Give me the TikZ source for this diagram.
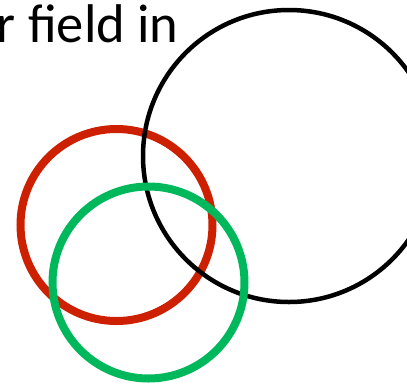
\documentclass[tikz,border=0pt]{standalone}
\usepackage{fontspec}
\setmainfont{Carlito}
\definecolor{ringred}{RGB}{204,32,0}
\definecolor{ringgreen}{RGB}{0,184,92}
\begin{document}
\begin{tikzpicture}[x=1pt,y=-1pt,
  ring/.style={line width=#1},
  ring/.default=8pt]
\useasboundingbox (0,0) rectangle (407,384);
\node[anchor=base west, inner sep=0pt, font=\fontsize{54.5}{60}\selectfont] (title) at (-3.5,42) {r field in};
\draw[ring, ringred] (116.5,225) circle[radius=96];
\draw[ring=4.5pt, black] (289,156) circle[radius=146];
\draw[ring, ringgreen] (148.5,282.5) circle[radius=96];
\end{tikzpicture}
\end{document}
